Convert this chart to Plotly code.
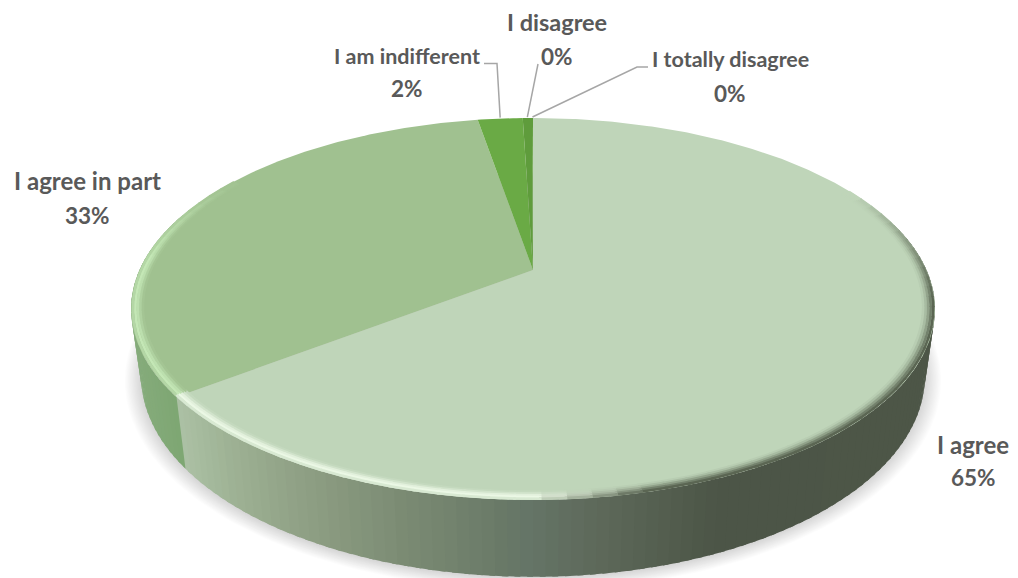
import numpy as np
import plotly.graph_objects as go

# Data
labels = ["I agree", "I agree in part", "I am indifferent", "I disagree", "I totally disagree"]
values = [64.6, 32.7, 2.2, 0.45, 0.05]

# Styles
top_colors = ["#bfd5b9", "#a0c190", "#6aaa45", "#5f9c3c", "#5f9c3c"]
name_sizes = [24, 24, 21.5, 23.5, 21.5]
pct_size = 22.5
TEXT = "#595959"
LEADER = "#a6a6a6"
FONT = "Lato, Carlito, Calibri, sans-serif"

# Projection of the tilted disk onto the page
CX, APEX_Y = 533.0, 270.0
K, BY, CXS = 0.204, 183.0, 393.5


def top_xy(deg, r=1.0):
    t = np.radians(deg)
    X, Y = r * np.sin(t), r * np.cos(t)
    d = 1 + K * Y
    return CX + CXS * X / d, APEX_Y - BY * Y / d


def low_xy(deg, grow=1.0, dy=0.0):
    x, y = top_xy(deg)
    xb = CX + 0.975 * grow * (x - CX)
    yb = 376 + 1.052 * grow * (y - 309) + dy
    return xb, yb


fracs = np.array(values) / sum(values) * 360.0
edges = np.concatenate([[0], np.cumsum(fracs)])

stop_x = [178, 230, 300, 400, 500, 530, 600, 720, 940]
stop_r = [172, 158, 143, 124, 106, 101, 94, 76, 78]
stop_g = [193, 178, 160, 140, 122, 117, 105, 85, 87]
stop_b = [165, 148, 133, 116, 104, 103, 90, 71, 71]

fig = go.Figure()


def poly(x, y, color):
    fig.add_trace(go.Scatter(x=x, y=y, mode="lines", fill="toself", fillcolor=color,
                             line=dict(width=0), hoverinfo="skip", showlegend=False))


# Soft shadow
ring = np.linspace(0, 360, 241)
for i in range(14):
    sx, sy = low_xy(ring, grow=1.0 + 0.0032 * i, dy=1.0 + 0.3 * i)
    poly(sx, sy, "rgba(0,0,0,0.012)")

# Side wall
strips = np.arange(75.0, 287.0, 1.5)
for a in strips:
    b = a + 2.2
    mid = a + 0.75
    xa, ya = top_xy(np.array([a, b]))
    xl, yl = low_xy(np.array([b, a]))
    xm = top_xy(mid)[0]
    if mid < edges[1]:
        col = "rgb(%d,%d,%d)" % (np.interp(xm, stop_x, stop_r), np.interp(xm, stop_x, stop_g),
                                 np.interp(xm, stop_x, stop_b))
    else:
        f = (xm - 131) / 47.0
        col = "rgb(%d,%d,%d)" % (134 - 8 * f, 172 - 5 * f, 124 - 9 * f)
    poly(np.concatenate([xa, xl]), np.concatenate([ya, yl]), col)

# Top face slices
for i, val in enumerate(values):
    arc = np.linspace(edges[i], edges[i + 1], max(3, int(fracs[i] * 2)))
    ax, ay = top_xy(arc)
    poly(np.concatenate([[CX], ax, [CX]]), np.concatenate([[APEX_Y], ay, [APEX_Y]]), top_colors[i])

# Rounded rim: opaque rings blended from the face colour towards a light or dark edge
FACE_A = np.array([191, 213, 185.0])
FACE_B = np.array([160, 193, 144.0])
LIGHT_A = np.array([238, 250, 232.0])
LIGHT_B = np.array([198, 234, 184.0])
DARK = np.array([80, 90, 72.0])
ring_r = [0.972, 0.978, 0.984, 0.990, 0.996]
light_w = [0.12, 0.40, 0.75, 0.95, 0.55]
dark_w = [0.06, 0.20, 0.42, 0.68, 0.90]

for j, r in enumerate(ring_r):
    for a in np.arange(62.0, 302.0, 3.0):
        xs, ys = top_xy(np.array([a, a + 3.3]), r=r)
        x = top_xy(a + 1.5)[0]
        if a + 1.5 > edges[1]:
            s = np.clip((302 - a) / 30.0, 0, 1)
            c = FACE_B + s * light_w[j] * (LIGHT_B - FACE_B)
        else:
            u = np.clip((x - 530) / 120.0, 0, 1)
            fade = np.clip((a - 62) / 35.0, 0, 1)
            c_light = FACE_A + light_w[j] * (LIGHT_A - FACE_A)
            c_dark = FACE_A + fade * dark_w[j] * (DARK - FACE_A)
            c = (1 - u) * c_light + u * c_dark
        fig.add_trace(go.Scatter(x=xs, y=ys, mode="lines",
                                 line=dict(color="rgb(%d,%d,%d)" % tuple(c), width=2.6),
                                 hoverinfo="skip", showlegend=False))

# Leader lines from the thin slices to their labels
mid_deg = (edges[:-1] + edges[1:]) / 2
elbows = {2: [(484, 63.5), (497, 63.5)], 3: [(538, 64)], 4: [(648, 67), (637, 67)]}
for i, pts in elbows.items():
    ex, ey = top_xy(mid_deg[i], r=1.0)
    fig.add_trace(go.Scatter(x=[p[0] for p in pts] + [ex], y=[p[1] for p in pts] + [ey - 1],
                             mode="lines", line=dict(color=LEADER, width=1.5),
                             hoverinfo="skip", showlegend=False))

# Labels
label_pos = [(973, 444, 477), (87, 180, 215), (407, 56, 88), (557, 22, 56), (730, 59, 93)]
annos = []
for name, val, size, (lx, ly1, ly2) in zip(labels, values, name_sizes, label_pos):
    for txt, ly, fs in ((name, ly1, size), ("%d%%" % round(val), ly2, pct_size)):
        annos.append(dict(x=lx, y=ly, text="<b>%s</b>" % txt, showarrow=False, xanchor="center",
                          yanchor="middle", font=dict(family=FONT, size=fs, color=TEXT)))

fig.update_layout(
    width=1018, height=578, margin=dict(l=0, r=0, t=0, b=0),
    paper_bgcolor="white", plot_bgcolor="white", showlegend=False, annotations=annos,
    xaxis=dict(range=[0, 1018], visible=False, fixedrange=True),
    yaxis=dict(range=[578, 0], visible=False, fixedrange=True),
)
fig.write_html("out.html", config={"displayModeBar": False},
               post_script="document.body.style.margin='0';")
